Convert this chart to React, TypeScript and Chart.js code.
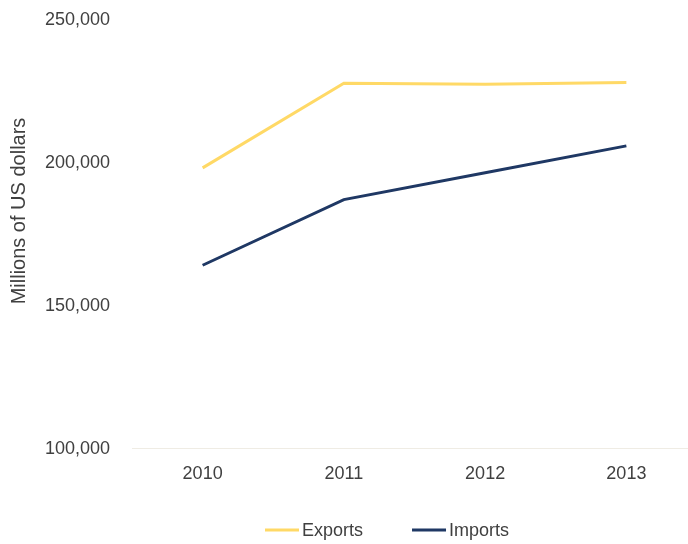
import React, { useEffect, useRef } from "react";
import { Chart, registerables } from "chart.js";

Chart.register(...registerables);

const years = ["2010", "2011", "2012", "2013"];
const exportsValues = [198400, 228000, 227700, 228300];
const importsValues = [164300, 187300, 196700, 206100];
const seriesNames = ["Exports", "Imports"];
const seriesColors = ["#FFD966", "#1F3864"];
const yMin = 100000;
const yMax = 250000;
const yStep = 50000;
const yTitle = "Millions of US dollars";

const FONT = "'Liberation Sans', Arial, sans-serif";
const TEXT = "#404040";

export default function App() {
  const ref = useRef<HTMLCanvasElement>(null);

  useEffect(() => {
    document.documentElement.style.overflow = "hidden";
    document.body.style.margin = "0";
    const decorPlugin = {
      id: "decor",
      afterDraw(chart: any) {
        const ctx = chart.ctx;
        ctx.save();
        // legend
        ctx.font = `18px ${FONT}`;
        ctx.textBaseline = "middle";
        ctx.textAlign = "left";
        let x = 265;
        const y = 530;
        chart.data.datasets.forEach((ds: any) => {
          ctx.strokeStyle = ds.borderColor;
          ctx.lineWidth = 3;
          ctx.beginPath();
          ctx.moveTo(x, y);
          ctx.lineTo(x + 34, y);
          ctx.stroke();
          ctx.fillStyle = TEXT;
          ctx.fillText(ds.label, x + 37, y + 1);
          x += 37 + ctx.measureText(ds.label).width + 49;
        });
        // y axis title
        ctx.font = `20px ${FONT}`;
        ctx.textAlign = "center";
        ctx.fillStyle = TEXT;
        ctx.translate(19, 211);
        ctx.rotate(-Math.PI / 2);
        ctx.fillText(yTitle, 0, 0);
        ctx.restore();
      },
    };

    const chart = new Chart(ref.current!, {
      type: "line",
      data: {
        labels: years,
        datasets: [
          {
            label: seriesNames[0],
            data: exportsValues,
            borderColor: seriesColors[0],
            backgroundColor: seriesColors[0],
            borderWidth: 3,
            pointRadius: 0,
            tension: 0,
          },
          {
            label: seriesNames[1],
            data: importsValues,
            borderColor: seriesColors[1],
            backgroundColor: seriesColors[1],
            borderWidth: 3,
            pointRadius: 0,
            tension: 0,
          },
        ],
      },
      options: {
        animation: false,
        responsive: true,
        maintainAspectRatio: false,
        layout: { padding: { top: 20.5, bottom: 45.5, left: 0, right: 0 } },
        plugins: {
          legend: { display: false },
          tooltip: { enabled: false },
        },
        scales: {
          x: {
            offset: true,
            grid: { display: false, drawTicks: false },
            border: { display: true, color: "#EFECE4", width: 1 },
            ticks: {
              color: TEXT,
              font: { family: FONT, size: 18 },
              padding: 14,
            },
          },
          y: {
            min: yMin,
            max: yMax,
            grid: { display: false, drawTicks: false },
            border: { display: false },
            ticks: {
              stepSize: yStep,
              color: TEXT,
              font: { family: FONT, size: 18 },
              padding: 22,
              callback: (v: any) => Number(v).toLocaleString("en-US"),
            },
            title: { display: false, text: yTitle },
            afterFit: (scale: any) => {
              scale.width = 132;
              scale.paddingTop = 0;
              scale.paddingBottom = 0;
            },
          },
        },
      },
      plugins: [decorPlugin],
    });
    return () => chart.destroy();
  }, []);

  return (
    <div style={{ position: "fixed", left: 0, top: 0, width: 697, height: 544 }}>
      <canvas ref={ref} />
    </div>
  );
}
